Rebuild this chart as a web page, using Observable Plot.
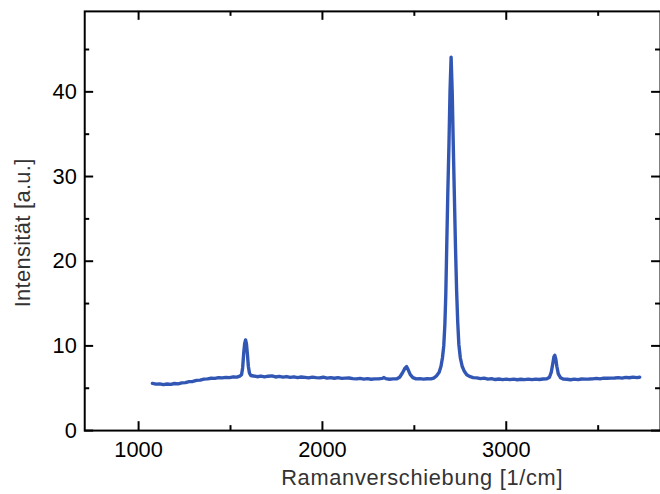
<!DOCTYPE html>
<html>
<head>
<meta charset="utf-8">
<script src="https://cdn.jsdelivr.net/npm/d3@7"></script>
<script src="https://cdn.jsdelivr.net/npm/@observablehq/plot@0.6"></script>
<style>
  html, body { margin: 0; padding: 0; background: #fff; overflow: hidden; }
</style>
</head>
<body>
<div id="chart"></div>
<script>
const wavenumber = [
  1075,1095,1115,1135,1155,1175,1195,1215,1235,1255,1275,1295,1315,1335,1355,1375,1395,1415,1435,1455,1475,1495,1515,1535,1550,
  1560,1566,1572,1577,1582,1587,1592,1597,1603,1610,1625,1645,1665,1685,1705,1725,1745,1765,1785,1805,1825,1845,1865,1885,1905,
  1925,1945,1965,1985,2005,2025,2045,2065,2085,2105,2125,2145,2165,2185,2205,2225,2245,2265,2285,2305,2325,2335,2345,2365,2385,
  2405,2420,2435,2450,2458,2466,2478,2492,2510,2530,2550,2570,2590,2605,2620,2635,2645,2653,2660,2666,2671,2676,2682,2688,2694,
  2700,2706,2712,2718,2724,2730,2736,2742,2750,2760,2772,2785,2800,2820,2840,2860,2880,2900,2920,2940,2960,2980,3000,3020,3040,
  3060,3080,3100,3120,3140,3160,3180,3200,3220,3235,3245,3253,3259,3264,3269,3275,3283,3295,3310,3330,3350,3370,3390,3410,3430,
  3450,3470,3490,3510,3530,3550,3570,3590,3610,3630,3650,3670,3690,3710,3726
];
const intensity = [
  5.57,5.48,5.52,5.42,5.50,5.45,5.56,5.52,5.64,5.66,5.78,5.80,5.93,5.96,6.08,6.10,6.18,6.16,6.25,6.22,6.29,6.26,6.35,6.31,6.42,
  6.60,7.40,9.20,10.30,10.70,10.20,9.00,7.60,6.80,6.50,6.45,6.36,6.44,6.34,6.42,6.46,6.33,6.40,6.31,6.38,6.28,6.35,6.26,6.33,6.29,
  6.23,6.31,6.25,6.22,6.30,6.19,6.26,6.18,6.25,6.17,6.19,6.21,6.13,6.10,6.16,6.08,6.13,6.06,6.11,6.10,6.16,6.26,6.13,6.06,6.10,
  6.12,6.30,6.80,7.40,7.55,7.20,6.60,6.25,6.10,6.13,6.08,6.12,6.10,6.20,6.45,6.90,7.60,8.60,10.0,12.5,16.0,21.5,28.0,33.5,40.0,
  44.1,40.0,33.5,27.5,21.5,16.5,12.8,10.2,8.60,7.60,7.00,6.60,6.40,6.26,6.22,6.13,6.19,6.08,6.13,6.03,6.09,6.02,6.08,6.01,6.07,
  6.00,6.06,6.02,6.08,6.01,6.07,6.03,6.09,6.10,6.30,6.90,7.90,8.70,8.90,8.50,7.60,6.70,6.25,6.08,6.06,6.00,6.07,6.02,6.09,6.08,
  6.09,6.11,6.16,6.11,6.19,6.18,6.19,6.21,6.26,6.20,6.29,6.24,6.31,6.26,6.30
];
const xMajor = [1000, 2000, 3000];
const xMinor = [1500, 2500, 3500];
const yMajor = [0, 10, 20, 30, 40];
const yMinor = [5, 15, 25, 35, 45];
const xTitle = "Ramanverschiebung [1/cm]";
const yTitle = "Intensität [a.u.]";

const spectrum = wavenumber.map((x, i) => ({x, y: intensity[i]}));

const W = 666, H = 494, mL = 85, mR = 0, mT = 11, mB = 60;
const frameW = W - mL - mR, frameH = H - mT - mB;
const tickStyle = {stroke: "#000", strokeWidth: 2};
// inward tick marks: full-frame ticks shortened by insets
const xTicks = (values, side, len) => Plot.tickX(values, {x: d => d, ...tickStyle,
  ...(side === "bottom" ? {insetTop: frameH - len} : {insetBottom: frameH - len})});
const yTicks = (values, side, len) => Plot.tickY(values, {y: d => d, ...tickStyle,
  ...(side === "left" ? {insetRight: frameW - len} : {insetLeft: frameW - len})});

const chart = Plot.plot({
  width: W,
  height: H,
  marginLeft: mL,
  marginRight: mR,
  marginTop: mT,
  marginBottom: mB,
  x: {domain: [707, 3839], axis: null},
  y: {domain: [0, 49.5], axis: null},
  style: {fontFamily: "'Liberation Sans', Arial, sans-serif", fontSize: "22px", color: "#000", background: "#fff"},
  marks: [
    Plot.line(spectrum, {x: "x", y: "y", stroke: "#3156b4", strokeWidth: 3.4, strokeLinejoin: "round"}),
    Plot.frame({stroke: "#000", strokeWidth: 2}),
    xTicks(xMajor, "bottom", 9),
    xTicks(xMinor, "bottom", 5),
    xTicks(xMajor, "top", 9),
    xTicks(xMinor, "top", 5),
    yTicks(yMajor, "left", 9),
    yTicks(yMinor, "left", 5),
    yTicks(yMajor, "right", 9),
    yTicks(yMinor, "right", 5),
    Plot.text(xMajor, {x: d => d, text: d => String(d), frameAnchor: "bottom", lineAnchor: "middle", dy: 20, fontSize: 22, fill: "#000"}),
    Plot.text(yMajor, {y: d => d, text: d => String(d), frameAnchor: "left", textAnchor: "end", lineAnchor: "middle", dx: -8, fontSize: 22, fill: "#000"}),
    Plot.text([xTitle], {frameAnchor: "bottom", textAnchor: "middle", lineAnchor: "middle", dx: 50, dy: 48, fontSize: 22, fill: "#333"}),
    Plot.text([yTitle], {frameAnchor: "left", textAnchor: "middle", lineAnchor: "middle", dx: -62, dy: 12, rotate: -90, fontSize: 22, fill: "#333"})
  ]
});
// slightly wider tracking for the two axis titles
chart.querySelectorAll("text").forEach(t => {
  if (t.textContent === xTitle) t.setAttribute("letter-spacing", "0.7");
  if (t.textContent === yTitle) t.setAttribute("letter-spacing", "0.35");
});
document.getElementById("chart").appendChild(chart);
</script>
</body>
</html>
